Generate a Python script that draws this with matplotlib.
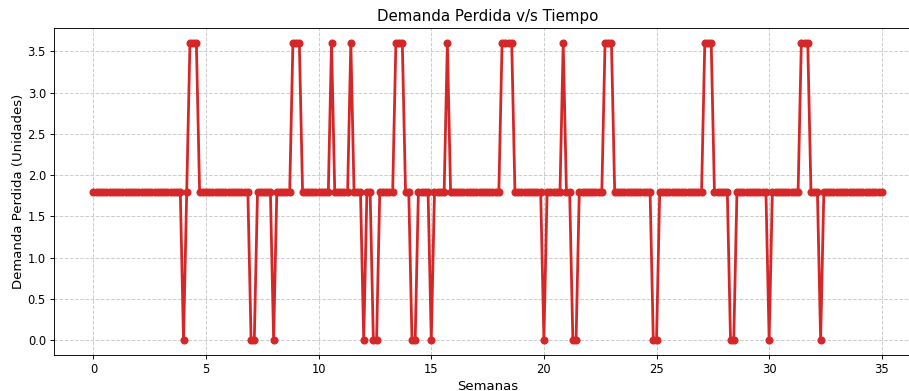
import numpy as np
import matplotlib
matplotlib.use("Agg")
import matplotlib.pyplot as plt

# lost demand per day over 35 weeks (x axis in weeks, one point per day)
n_days = 246
base_level = 1.8
spike_level = 3.6
dip_level = 0.0
spike_days = [30, 31, 32, 62, 63, 64, 74, 80, 94, 95, 96, 110,
              127, 128, 129, 130, 146, 159, 160, 161, 190, 191, 192,
              220, 221, 222]
dip_days = [28, 49, 50, 56, 84, 87, 88, 99, 100, 105, 140, 149, 150,
            174, 175, 198, 199, 210, 226]

semanas = np.arange(n_days) / 7
demanda = np.full(n_days, base_level)
demanda[spike_days] = spike_level
demanda[dip_days] = dip_level

fig = plt.figure(figsize=(9.09, 3.91), dpi=100)
ax = fig.add_axes([0.0594, 0.092, 0.954, 0.836])
ax.plot(semanas, demanda, color="#d62728", linewidth=2.0, marker="o", markersize=4.8)
ax.set_title("Demanda Perdida v/s Tiempo", fontsize=10.8, pad=5)
ax.set_xlabel("Semanas", fontsize=9.5, labelpad=3)
ax.set_ylabel("Demanda Perdida (Unidades)", fontsize=9.5, labelpad=1.5)
ax.set_xticks(np.arange(0, 36, 5))
ax.set_yticks(np.arange(0, 3.51, 0.5))
ax.tick_params(labelsize=8.3, length=2.9, width=0.66, pad=2.9)
for spine in ax.spines.values():
    spine.set_linewidth(0.66)
ax.grid(True, linestyle="--", color="#cccccc", linewidth=0.7)
fig.savefig("out.png", dpi=100)
